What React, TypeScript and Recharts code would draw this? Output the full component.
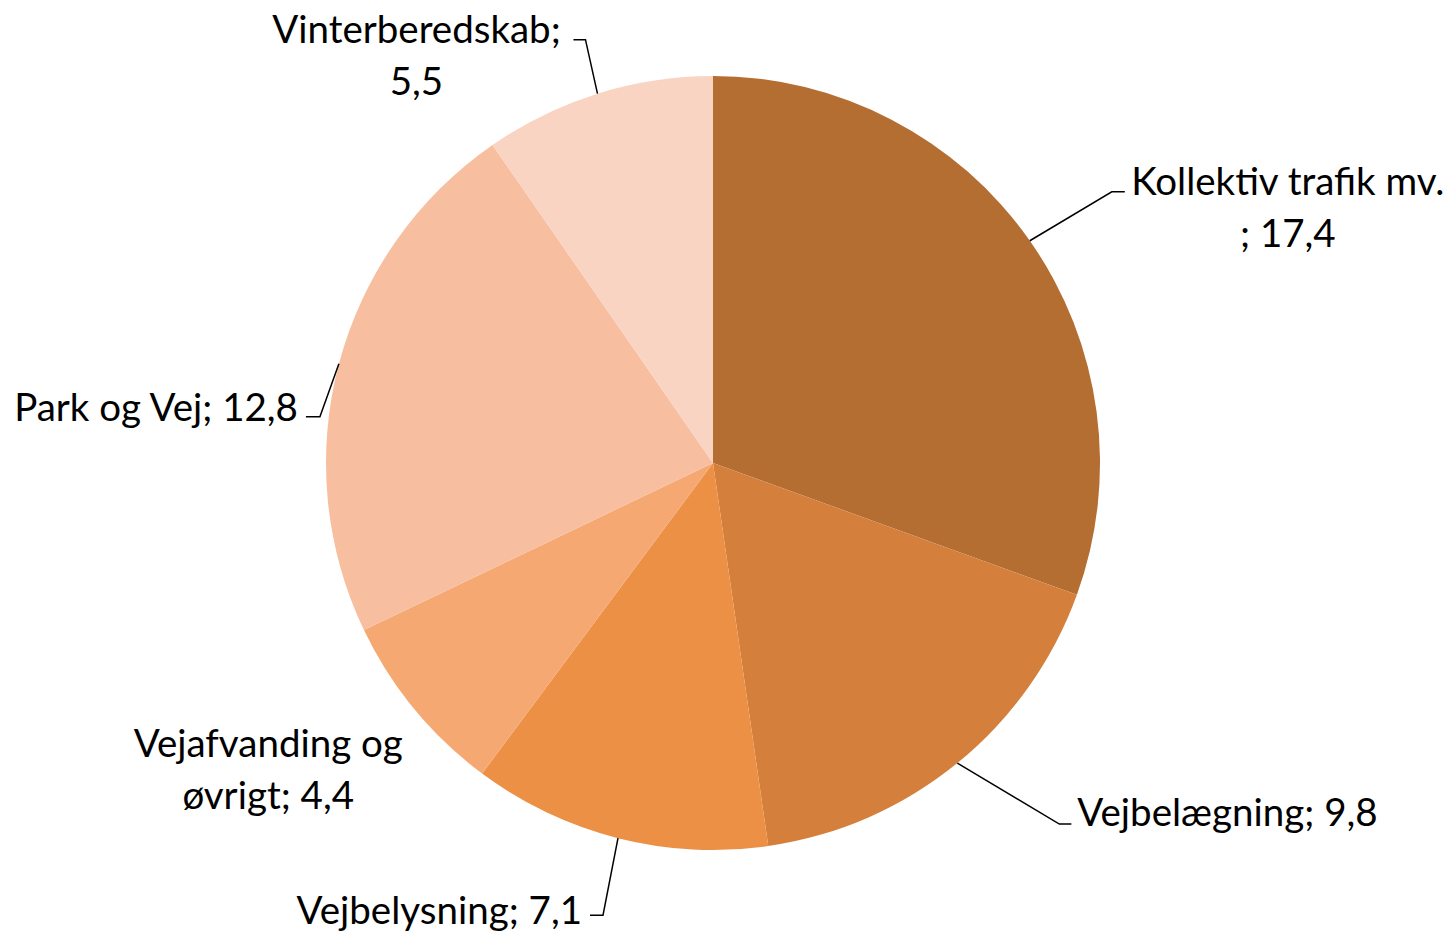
import { PieChart, Pie, Cell } from 'recharts';

const categories = [
  'Kollektiv trafik mv.',
  'Vejbelægning',
  'Vejbelysning',
  'Vejafvanding og øvrigt',
  'Park og Vej',
  'Vinterberedskab',
];
const values = [17.4, 9.8, 7.1, 4.4, 12.8, 5.5];
const labelLines = [
  ['Kollektiv trafik mv.', '; 17,4'],
  ['Vejbelægning; 9,8'],
  ['Vejbelysning; 7,1'],
  ['Vejafvanding og', 'øvrigt; 4,4'],
  ['Park og Vej; 12,8'],
  ['Vinterberedskab;', '5,5'],
];

const colors = ['#B46E32', '#D4803C', '#EB9045', '#F5A872', '#F7BFA0', '#F9D4C3'];

// leader elbow offset from arc point, tail length, text offset (first line) from tail end
const labelLayout = [
  { ex: 82, ey: -49, tail: 13, tx: 163, ty: -12, anchor: 'middle', line: true },
  { ex: 102, ey: 61, tail: 12, tx: 6, ty: -13, anchor: 'start', line: true },
  { ex: -15, ey: 77, tail: -13, tx: -8, ty: -6, anchor: 'end', line: true },
  { ex: -146, ey: 33, tail: 0, tx: 0, ty: 0, anchor: 'middle', line: false },
  { ex: -19, ey: 53, tail: -14, tx: -8, ty: -11, anchor: 'end', line: true },
  { ex: -12, ey: -54, tail: -12, tx: -157, ty: -12, anchor: 'middle', line: true },
];

const data = categories.map((name, i) => ({ name, value: values[i] }));

const RAD = Math.PI / 180;
const LINE_H = 52;

function renderLabel(props: any) {
  const { cx, cy, midAngle, outerRadius, index } = props;
  const lay = labelLayout[index];
  const ax = cx + outerRadius * Math.cos(-midAngle * RAD);
  const ay = cy + outerRadius * Math.sin(-midAngle * RAD);
  const exx = ax + lay.ex;
  const eyy = ay + lay.ey;
  const endX = exx + lay.tail;
  const tx = endX + lay.tx;
  const ty = eyy + lay.ty;
  const lines = labelLines[index];
  return (
    <g key={`lbl-${index}`}>
      {lay.line && (
        <polyline
          points={`${ax},${ay} ${exx},${eyy} ${endX},${eyy}`}
          fill="none"
          stroke="#000"
          strokeWidth={1.5}
        />
      )}
      <text
        x={tx}
        y={ty}
        textAnchor={lay.anchor as any}
        dominantBaseline="central"
        fill="#000"
        fontSize={38.5}
        fontFamily="Lato, 'Open Sans', sans-serif"
      >
        {lines.map((t, i) => (
          <tspan key={i} x={tx} dy={i === 0 ? 0 : LINE_H}>
            {t}
          </tspan>
        ))}
      </text>
    </g>
  );
}

export default function App() {
  return (
    <div style={{ position: 'absolute', left: 0, top: 0, background: '#fff' }}>
      <PieChart width={1456} height={933} margin={{ top: 0, right: 0, bottom: 0, left: 0 }}>
        <Pie
          data={data}
          dataKey="value"
          nameKey="name"
          cx={713}
          cy={463}
          outerRadius={387}
          startAngle={90}
          endAngle={-270}
          stroke="none"
          label={renderLabel}
          labelLine={false}
          isAnimationActive={false}
        >
          {data.map((_, i) => (
            <Cell key={i} fill={colors[i]} />
          ))}
        </Pie>
      </PieChart>
    </div>
  );
}
